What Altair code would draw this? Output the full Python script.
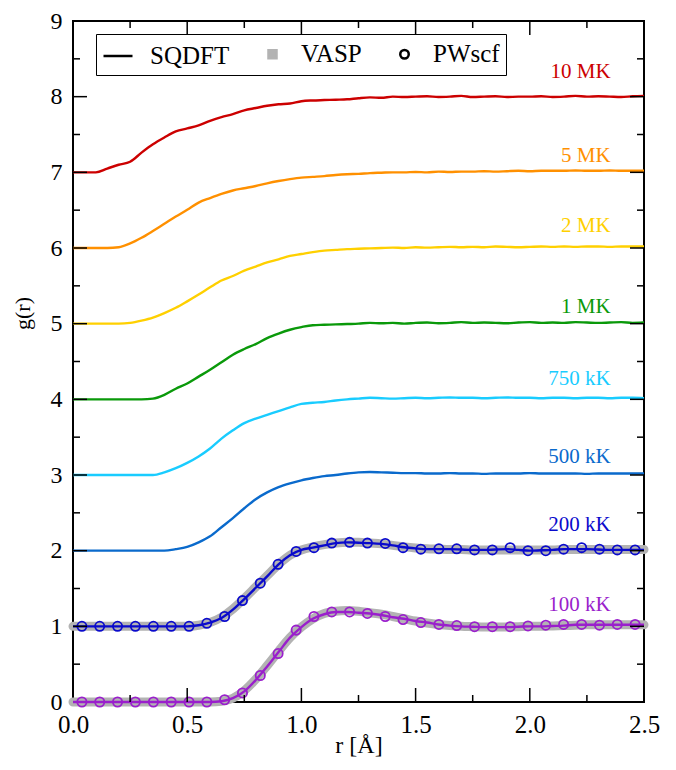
import altair as alt
import pandas as pd

# ---------------- data ----------------
TEMPS = ["100 kK", "200 kK", "500 kK", "750 kK", "1 MK", "2 MK", "5 MK", "10 MK"]
OFFSETS = [0, 1, 2, 3, 4, 5, 6, 7]
COLORS = ["#9a1fcc", "#0a0acc", "#0a6acc", "#19ccff", "#0a990a", "#ffd000", "#ff9000", "#cc0000"]

R_GRID = [0.00, 0.05, 0.10, 0.15, 0.20, 0.25, 0.30, 0.35, 0.40, 0.45,
          0.50, 0.55, 0.60, 0.65, 0.70, 0.75, 0.80, 0.85, 0.90, 0.95,
          1.00, 1.05, 1.10, 1.15, 1.20, 1.25, 1.30, 1.35, 1.40, 1.45,
          1.50, 1.55, 1.60, 1.65, 1.70, 1.75, 1.80, 1.85, 1.90, 1.95,
          2.00, 2.05, 2.10, 2.15, 2.20, 2.25, 2.30, 2.35, 2.40, 2.45, 2.50]

# SQDFT g(r) (unshifted)
G_100K = [0] * 13 + [0.01, 0.05, 0.14, 0.29, 0.47, 0.66, 0.85, 0.99, 1.10, 1.16, 1.19, 1.19, 1.18,
                     1.17, 1.15, 1.12, 1.10, 1.07, 1.05, 1.025, 1.01, 1.0, 0.995, 0.99, 0.99, 0.99,
                     0.995, 1.0, 1.0, 1.005, 1.01, 1.02, 1.02, 1.02, 1.02, 1.02, 1.02, 1.02]
G_200K = [0] * 11 + [0.015, 0.05, 0.11, 0.22, 0.36, 0.51, 0.66, 0.82, 0.94, 1.01, 1.04, 1.07, 1.10,
                     1.11, 1.105, 1.10, 1.09, 1.07, 1.045, 1.03, 1.02, 1.02, 1.02, 1.015, 1.01, 1.01,
                     1.015, 1.02, 1.01, 1.0, 1.005, 1.01, 1.02, 1.02, 1.02, 1.015, 1.01, 1.01, 1.01, 1.01]
G_500K = [0] * 9 + [0.02, 0.05, 0.11, 0.19, 0.31, 0.43, 0.56, 0.68, 0.77, 0.84, 0.89, 0.93, 0.96,
                    0.985, 1.00, 1.02, 1.035, 1.04, 1.035, 1.03, 1.025, 1.025, 1.02, 1.02, 1.025, 1.02,
                    1.02, 1.015, 1.02, 1.02, 1.02, 1.025, 1.02, 1.02, 1.02, 1.02, 1.015, 1.02, 1.02,
                    1.02, 1.02, 1.02]
G_750K = [0] * 8 + [0.035, 0.09, 0.16, 0.245, 0.35, 0.48, 0.59, 0.685, 0.745, 0.795, 0.845, 0.895,
                    0.94, 0.955, 0.965, 0.985, 1.0, 1.01, 1.02, 1.015, 1.01, 1.015, 1.02, 1.015, 1.02,
                    1.025, 1.02, 1.02, 1.015, 1.02, 1.025, 1.02, 1.02, 1.015, 1.02, 1.02, 1.015, 1.02,
                    1.02, 1.015, 1.02, 1.02, 1.015]
G_1MK = [0] * 7 + [0.01, 0.06, 0.14, 0.21, 0.30, 0.39, 0.49, 0.59, 0.665, 0.73, 0.81, 0.87, 0.92,
                   0.955, 0.98, 0.985, 0.99, 0.995, 1.0, 1.01, 1.005, 1.01, 1.0, 1.01, 1.015, 1.005,
                   1.01, 1.02, 1.01, 1.015, 1.01, 1.005, 1.015, 1.02, 1.01, 1.015, 1.01, 1.02, 1.015,
                   1.01, 1.015, 1.02, 1.01, 1.015]
G_2MK = [0] * 5 + [0.01, 0.04, 0.08, 0.14, 0.21, 0.295, 0.385, 0.48, 0.57, 0.63, 0.70, 0.755, 0.81,
                   0.85, 0.895, 0.92, 0.945, 0.965, 0.975, 0.985, 0.99, 0.995, 1.0, 1.005, 1.0, 1.01,
                   1.005, 1.01, 1.015, 1.01, 1.015, 1.01, 1.02, 1.015, 1.01, 1.015, 1.02, 1.015, 1.02,
                   1.015, 1.02, 1.02, 1.015, 1.02, 1.02, 1.02]
G_5MK = [0] * 4 + [0.01, 0.06, 0.135, 0.225, 0.32, 0.415, 0.505, 0.60, 0.66, 0.715, 0.76, 0.79, 0.82,
                   0.855, 0.885, 0.91, 0.93, 0.94, 0.95, 0.965, 0.975, 0.98, 0.99, 0.995, 1.0,
                   1.0, 1.005, 1.0, 1.01, 1.005, 1.01, 1.01, 1.015, 1.01, 1.015, 1.02, 1.015, 1.02,
                   1.02, 1.02, 1.025, 1.02, 1.02, 1.025, 1.02, 1.02, 1.02]
G_10MK = [0] * 3 + [0.05, 0.10, 0.14, 0.26, 0.37, 0.46, 0.54, 0.58, 0.62, 0.68, 0.73, 0.77, 0.82,
                    0.85, 0.88, 0.90, 0.91, 0.94, 0.95, 0.955, 0.96, 0.965, 0.98, 0.99, 0.985, 1.0,
                    0.995, 1.0, 1.005, 0.995, 1.0, 1.01, 0.995, 1.0, 1.005, 0.995, 1.0, 1.0, 1.005,
                    0.995, 1.0, 1.01, 1.0, 1.005, 1.0, 0.995, 1.005, 1.01]
SQDFT = [G_100K, G_200K, G_500K, G_750K, G_1MK, G_2MK, G_5MK, G_10MK]

# VASP (gray band), 100 kK and 200 kK
V_100K = [0] * 13 + [0.01, 0.05, 0.15, 0.30, 0.48, 0.67, 0.85, 0.99, 1.10, 1.17, 1.20, 1.21, 1.20,
                     1.18, 1.16, 1.13, 1.10, 1.07, 1.045, 1.025, 1.01, 1.0, 0.995, 0.99, 0.99, 0.99,
                     0.995, 1.0, 1.0, 1.005, 1.01, 1.015, 1.02, 1.02, 1.02, 1.02, 1.02, 1.02]
V_200K = [0] * 11 + [0.015, 0.05, 0.12, 0.23, 0.37, 0.52, 0.67, 0.82, 0.94, 1.01, 1.05, 1.08, 1.10,
                     1.11, 1.11, 1.10, 1.09, 1.07, 1.05, 1.035, 1.025, 1.02, 1.015, 1.015, 1.01, 1.01,
                     1.01, 1.01, 1.01, 1.01, 1.01, 1.01, 1.015, 1.015, 1.015, 1.015, 1.015, 1.015,
                     1.015, 1.015]
VASP_TEMPS = ["100 kK", "200 kK"]
VASP = [V_100K, V_200K]

# PWscf (circles)
R_PW = [0.039, 0.117, 0.195, 0.273, 0.352, 0.430, 0.508, 0.586, 0.664, 0.742, 0.820, 0.898,
        0.977, 1.055, 1.133, 1.211, 1.289, 1.367, 1.445, 1.523, 1.602, 1.680, 1.758, 1.836,
        1.914, 1.992, 2.070, 2.148, 2.227, 2.305, 2.383, 2.461]
P_100K = [0] * 8 + [0.03, 0.12, 0.35, 0.64, 0.95, 1.13, 1.19, 1.19, 1.17, 1.13, 1.09, 1.05, 1.025,
                    1.01, 0.995, 0.995, 0.995, 1.005, 1.015, 1.025, 1.025, 1.015, 1.025, 1.025]
P_200K = [0] * 7 + [0.04, 0.13, 0.34, 0.57, 0.82, 0.99, 1.04, 1.10, 1.11, 1.10, 1.095, 1.04, 1.02,
                    1.025, 1.025, 1.01, 1.01, 1.04, 1.00, 1.00, 1.02, 1.04, 1.02, 1.01, 1.01]
PW_TEMPS = ["100 kK", "200 kK"]
PWSCF = [P_100K, P_200K]

# curve annotations (position in data units)
LABEL_R = 2.354
LABEL_G = [1.205, 2.265, 3.154, 4.19, 5.145, 6.21, 7.13, 8.245]

METHODS = ["SQDFT", "VASP", "PWscf"]

X_LABELS = [0.0, 0.5, 1.0, 1.5, 2.0, 2.5]
Y_LABELS = [0, 1, 2, 3, 4, 5, 6, 7, 8, 9]
X_MAJOR = [0.5, 1.0, 1.5, 2.0]
X_MINOR = [0.25, 0.75, 1.25, 1.75, 2.25]
Y_MAJOR = [1, 2, 3, 4, 5, 6, 7, 8]
Y_MINOR = [0.5, 1.5, 2.5, 3.5, 4.5, 5.5, 6.5, 7.5, 8.5]

# ---------------- frames ----------------
off = dict(zip(TEMPS, OFFSETS))
sq_rows = [{"T": t, "r": r, "g": g + o} for t, o, vals in zip(TEMPS, OFFSETS, SQDFT)
           for r, g in zip(R_GRID, vals)]
va_rows = [{"T": t, "r": r, "g": g + off[t]} for t, vals in zip(VASP_TEMPS, VASP)
           for r, g in zip(R_GRID, vals)]
pw_rows = [{"T": t, "r": r, "g": g + off[t]} for t, vals in zip(PW_TEMPS, PWSCF)
           for r, g in zip(R_PW, vals)]
lab_rows = [{"T": t, "r": LABEL_R, "g": y} for t, y in zip(TEMPS, LABEL_G)]

sq_df = pd.DataFrame(sq_rows)
va_df = pd.DataFrame(va_rows)
pw_df = pd.DataFrame(pw_rows)
lab_df = pd.DataFrame(lab_rows)

W, H = 571, 681
FONT = "Liberation Serif"
TK_MAJ, TK_MIN = 14, 7

xs = alt.Scale(domain=[0, 2.5], nice=False, zero=False)
ys = alt.Scale(domain=[0, 9], nice=False, zero=False)
cs = alt.Scale(domain=TEMPS, range=COLORS)

x_axis = alt.Axis(values=X_LABELS, format=".1f", ticks=False, domain=False, grid=False,
                  labelFont=FONT, labelFontSize=25, labelColor="black", labelPadding=10,
                  labelFlush=False, labelOverlap=False,
                  title="r [Å]", titleFont=FONT, titleFontSize=24, titleFontWeight="normal",
                  titleColor="black", titleY=43, titleBaseline="middle")
y_axis = alt.Axis(values=Y_LABELS, format="d", ticks=False, domain=False, grid=False,
                  labelFont=FONT, labelFontSize=24, labelColor="black", labelPadding=11,
                  labelFlush=False, labelOverlap=False,
                  title="g(r)", titleFont=FONT, titleFontSize=22, titleFontWeight="normal",
                  titleColor="black", titleX=-51, titleY=292, titleBaseline="middle",
                  titleAlign="center")

vasp = alt.Chart(va_df).mark_line(color="#b3b3b3", strokeWidth=9, strokeCap="round",
                                  interpolate="monotone").encode(
    x=alt.X("r:Q", scale=xs, axis=x_axis),
    y=alt.Y("g:Q", scale=ys, axis=y_axis),
    detail="T:N",
)

sq = alt.Chart(sq_df).mark_line(strokeWidth=2.4, interpolate="monotone").encode(
    x=alt.X("r:Q", scale=xs, axis=None),
    y=alt.Y("g:Q", scale=ys, axis=None),
    color=alt.Color("T:N", scale=cs, legend=None),
)

pw = alt.Chart(pw_df).mark_point(filled=False, size=85, strokeWidth=1.8, opacity=1).encode(
    x=alt.X("r:Q", scale=xs, axis=None),
    y=alt.Y("g:Q", scale=ys, axis=None),
    color=alt.Color("T:N", scale=cs, legend=None),
)

labels = alt.Chart(lab_df).mark_text(align="right", baseline="alphabetic", font=FONT,
                                      fontSize=21).encode(
    x=alt.X("r:Q", scale=xs, axis=None),
    y=alt.Y("g:Q", scale=ys, axis=None),
    text="T:N",
    color=alt.Color("T:N", scale=cs, legend=None),
)


def xticks(vals, length):
    d = pd.DataFrame({"v": vals})
    bottom = alt.Chart(d).mark_rule(color="black", strokeWidth=1.5).encode(
        x=alt.X("v:Q", scale=xs, axis=None), y=alt.value(H), y2=alt.value(H - length))
    top = alt.Chart(d).mark_rule(color="black", strokeWidth=1.5).encode(
        x=alt.X("v:Q", scale=xs, axis=None), y=alt.value(0), y2=alt.value(length))
    return [bottom, top]


def yticks(vals, length):
    d = pd.DataFrame({"v": vals})
    left = alt.Chart(d).mark_rule(color="black", strokeWidth=1.5).encode(
        y=alt.Y("v:Q", scale=ys, axis=None), x=alt.value(0), x2=alt.value(length))
    right = alt.Chart(d).mark_rule(color="black", strokeWidth=1.5).encode(
        y=alt.Y("v:Q", scale=ys, axis=None), x=alt.value(W), x2=alt.value(W - length))
    return [left, right]


ticks = xticks(X_MAJOR, TK_MAJ) + xticks(X_MINOR, TK_MIN) + yticks(Y_MAJOR, TK_MAJ) + yticks(Y_MINOR, TK_MIN)

leg_common = dict(title=None, orient="none", legendX=23, legendY=13, direction="horizontal",
                  strokeColor="black", fillColor="white", padding=6, cornerRadius=0,
                  labelFont=FONT, labelFontSize=25, labelColor="black", labelOffset=16,
                  columnPadding=30, symbolStrokeWidth=2.5, labelLimit=300)
leg_df = pd.DataFrame({"m": METHODS})
legend_layer = alt.Chart(leg_df).mark_point(filled=True, opacity=1).encode(
    shape=alt.Shape("m:N", scale=alt.Scale(domain=METHODS, range=["stroke", "square", "circle"]),
                    legend=alt.Legend(**leg_common)),
    fill=alt.Fill("m:N", scale=alt.Scale(domain=METHODS, range=["black", "#b3b3b3", "white"]),
                  legend=alt.Legend(**leg_common)),
    stroke=alt.Stroke("m:N", scale=alt.Scale(domain=METHODS, range=["black", "#b3b3b3", "black"]),
                      legend=alt.Legend(**leg_common)),
    size=alt.Size("m:N", scale=alt.Scale(type="ordinal", domain=METHODS, range=[841, 64, 72]),
                  legend=alt.Legend(**leg_common)),
).transform_filter("false")

chart = alt.layer(vasp, sq, pw, labels, *ticks, legend_layer).resolve_axis(
    x="independent", y="independent"
).properties(
    width=W, height=H, background="white",
    autosize=alt.AutoSizeParams(type="none"),
    padding={"left": 65, "top": 13, "right": 20, "bottom": 55},
).configure_view(stroke="black", strokeWidth=2)

chart.save("out.html", embed_options={"renderer": "svg", "actions": False})
